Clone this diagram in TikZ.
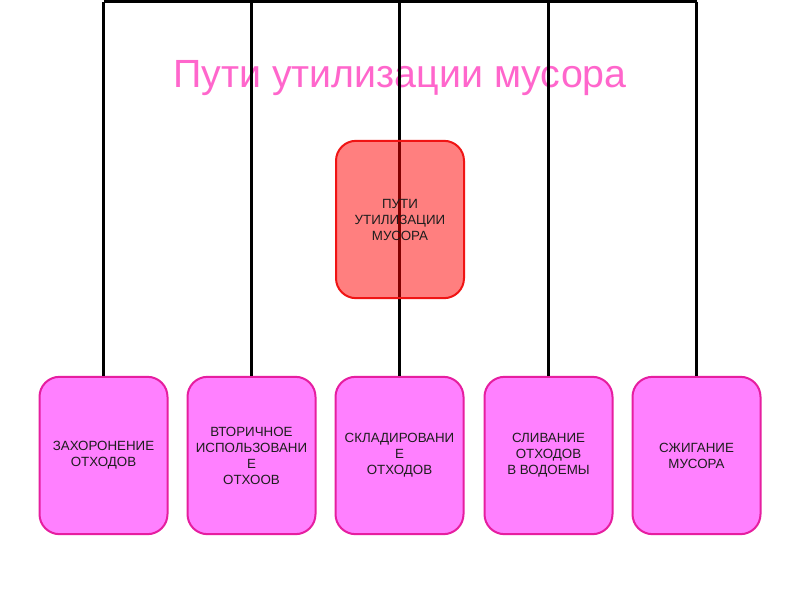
\documentclass[tikz,border=0pt]{standalone}
\usepackage{fontspec}
\setmainfont{Liberation Sans}
\definecolor{titlepink}{RGB}{255,102,204}
\definecolor{boxfill}{RGB}{255,128,255}
\definecolor{boxedge}{RGB}{230,30,160}
\definecolor{redfill}{RGB}{255,0,0}
\definecolor{rededge}{RGB}{240,20,20}
\definecolor{txt}{RGB}{30,30,30}
\begin{document}
\begin{tikzpicture}[x=0.75pt,y=-0.75pt,
  pinkbox/.style={draw=boxedge,line width=1.5pt,fill=boxfill,rounded corners=15pt,
    minimum width=96pt,minimum height=118pt,inner sep=0pt,align=center,
    font=\fontsize{10}{12}\selectfont,text=txt},
  redbox/.style={draw=rededge,line width=1.5pt,fill=redfill,fill opacity=0.5,text opacity=1,
    rounded corners=15pt,minimum width=96pt,minimum height=118pt,inner sep=0pt,align=center,
    font=\fontsize{10}{12}\selectfont,text=txt},
  wire/.style={draw=black,line width=2.2pt}]
\useasboundingbox (0,0) rectangle (800,600);
\fill[white] (0,0) rectangle (800,600);
\node[text=titlepink,font=\fontsize{29.5}{32}\selectfont,anchor=base] (title) at (400,87) {Пути утилизации мусора};
% boxes (positions)
\path (103.5,455.5) node[pinkbox] (b1) {ЗАХОРОНЕНИЕ\\ОТХОДОВ}
      (251.5,455.5) node[pinkbox] (b2) {ВТОРИЧНОЕ\\ИСПОЛЬЗОВАНИ\\Е\\ОТХООВ}
      (399.5,455.5) node[pinkbox] (b3) {СКЛАДИРОВАНИ\\Е\\ОТХОДОВ}
      (548.5,455.5) node[pinkbox] (b4) {СЛИВАНИЕ\\ОТХОДОВ\\В ВОДОЕМЫ}
      (696.5,455.5) node[pinkbox] (b5) {СЖИГАНИЕ\\МУСОРА};
\foreach \i in {1,...,5} \coordinate (t\i) at (b\i.north |- 0,1.5);
\draw[wire] (t1) -- (t5);
\foreach \i in {1,...,5} \draw[wire] (t\i) -- (b\i.north);
\node[redbox] (center) at (400,219.5) {ПУТИ\\УТИЛИЗАЦИИ\\МУСОРА};
\end{tikzpicture}
\end{document}
